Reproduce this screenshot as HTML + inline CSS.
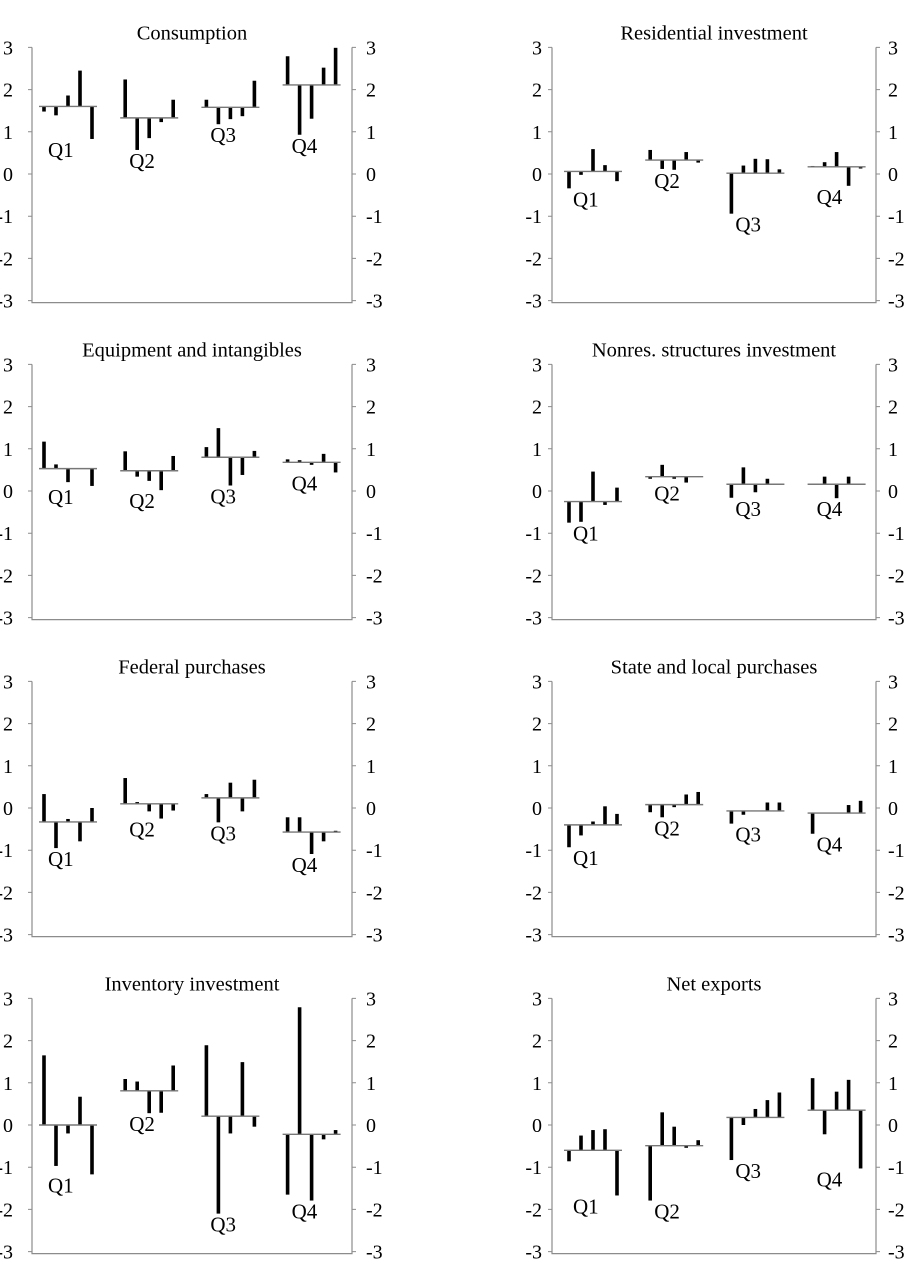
<!DOCTYPE html>
<html><head><meta charset="utf-8">
<style>
html,body{margin:0;padding:0;background:#fff;}
svg{display:block;font-family:"Liberation Serif",serif;}
</style></head>
<body>
<svg id="chart" width="905" height="1266" viewBox="0 0 905 1266" xmlns="http://www.w3.org/2000/svg"></svg>
<script>
const panelTitles = ["Consumption","Residential investment","Equipment and intangibles","Nonres. structures investment","Federal purchases","State and local purchases","Inventory investment","Net exports"];
const quarterLabels = ["Q1","Q2","Q3","Q4"];
const yTicks = [3,2,1,0,-1,-2,-3];
const consumptionMeans = [1.60,1.33,1.58,2.11];
const consumptionBars = [[1.48,1.39,1.86,2.45,0.83],[2.24,0.57,0.85,1.23,1.76],[1.76,1.18,1.30,1.37,2.21],[2.79,0.93,1.31,2.52,2.99]];
const residentialMeans = [0.06,0.33,0.02,0.17];
const residentialBars = [[-0.34,-0.02,0.59,0.21,-0.17],[0.57,0.12,0.10,0.52,0.27],[-0.94,0.20,0.36,0.35,0.11],[0.19,0.28,0.52,-0.28,0.13]];
const equipmentMeans = [0.53,0.48,0.80,0.68];
const equipmentBars = [[1.17,0.63,0.21,0.53,0.12],[0.94,0.34,0.24,0.02,0.83],[1.04,1.49,0.13,0.38,0.95],[0.75,0.73,0.62,0.88,0.44]];
const structuresMeans = [-0.25,0.34,0.16,0.16];
const structuresBars = [[-0.75,-0.73,0.46,-0.33,0.08],[0.29,0.62,0.29,0.20,0.34],[-0.16,0.56,-0.03,0.29,0.16],[0.16,0.34,-0.17,0.34,0.16]];
const federalMeans = [-0.33,0.10,0.24,-0.57];
const federalBars = [[0.33,-0.95,-0.26,-0.79,0.0],[0.71,0.14,-0.08,-0.25,-0.06],[0.33,-0.34,0.60,-0.08,0.67],[-0.22,-0.22,-1.09,-0.79,-0.54]];
const stateMeans = [-0.40,0.08,-0.07,-0.12];
const stateBars = [[-0.93,-0.65,-0.32,0.04,-0.14],[-0.10,-0.22,0.02,0.32,0.38],[-0.37,-0.16,-0.07,0.13,0.13],[-0.61,-0.12,-0.12,0.07,0.17]];
const inventoryMeans = [0.0,0.81,0.21,-0.22];
const inventoryBars = [[1.65,-0.97,-0.20,0.67,-1.17],[1.09,1.03,0.28,0.29,1.41],[1.89,-2.10,-0.20,1.49,-0.04],[-1.65,2.79,-1.79,-0.34,-0.12]];
const netExportsMeans = [-0.60,-0.49,0.18,0.35];
const netExportsBars = [[-0.86,-0.25,-0.12,-0.10,-1.67],[-1.79,0.30,-0.04,-0.54,-0.36],[-0.83,0.0,0.38,0.59,0.77],[1.11,-0.22,0.79,1.07,-1.03]];

const allMeans=[consumptionMeans,residentialMeans,equipmentMeans,structuresMeans,federalMeans,stateMeans,inventoryMeans,netExportsMeans];
const allBars=[consumptionBars,residentialBars,equipmentBars,structuresBars,federalBars,stateBars,inventoryBars,netExportsBars];

const NS="http://www.w3.org/2000/svg";
const svg=document.getElementById('chart');
function mk(tag,attrs,parent){const e=document.createElementNS(NS,tag);for(const k in attrs)e.setAttribute(k,attrs[k]);parent.appendChild(e);return e;}

const rowZero=[174,491,808,1125];
const unit=42.2;
const cols=[{L:32,R:352,g0:39,lblR:13,rlbl:366},{L:552,R:876,g0:564,lblR:542,rlbl:888}];
const gSpace=81.2, gWidth=58, barOff=[5,17,29,41,53];
const GRAY="#8c8c8c";

for(let p=0;p<8;p++){
  const c=cols[p%2], z=rowZero[Math.floor(p/2)];
  const y=v=>z-v*unit;
  const g=mk('g',{},svg);
  
  
  const t=mk('text',{x:(c.L+c.R)/2,y:y(3)-8,'text-anchor':'middle','font-size':20.5,fill:'#000'},g);
  t.textContent=panelTitles[p];
  
  
  const axes=mk('path',{d:`M${c.L},${y(3)}V${y(-3)+2}H${c.R}V${y(3)}`,fill:'none',stroke:GRAY,'stroke-width':1.2},g);
  
  
  yTicks.forEach(v=>{
    const tk=mk('path',{d:`M${c.L-4},${y(v)}H${c.L}M${c.R},${y(v)}H${c.R+4}`,stroke:GRAY,'stroke-width':1},g);
    
    
    const l=mk('text',{x:c.lblR,y:y(v)+7,'text-anchor':'end','font-size':20},g);
    l.textContent=v;
    
    
    const r=mk('text',{x:c.rlbl,y:y(v)+7,'text-anchor':'start','font-size':20},g);
    r.textContent=v;
    
    
  });
  for(let q=0;q<4;q++){
    const gx=c.g0+q*gSpace, m=allMeans[p][q], bars=allBars[p][q];
    bars.forEach((v,i)=>{
      const y1=Math.min(y(v),y(m)), h=Math.abs(y(v)-y(m));
      const b=mk('rect',{x:gx+barOff[i]-1.8,y:y1,width:3.6,height:Math.max(h,0),fill:'#000'},g);
      
      
    });
    const ml=mk('line',{x1:gx,x2:gx+gWidth,y1:y(m),y2:y(m),stroke:'#777','stroke-width':1.4},g);
    
    
    const mn=Math.min(m,...bars);
    const ql=mk('text',{x:gx+9,y:y(mn)+18,'font-size':21},g);
    ql.textContent=quarterLabels[q];
    
    
  }
}
</script>
</body></html>
